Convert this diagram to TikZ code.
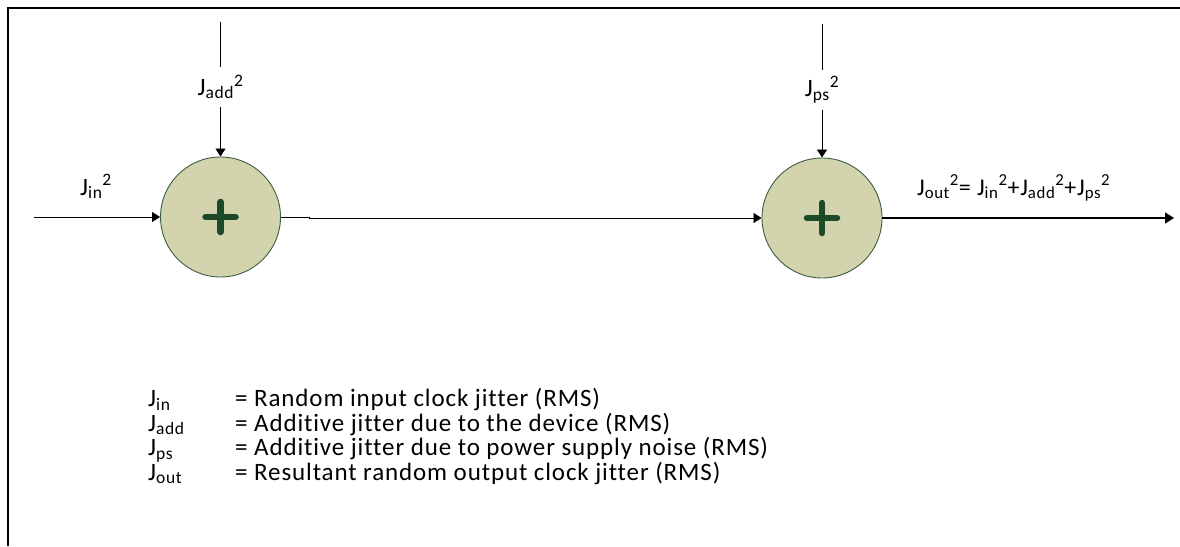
\documentclass[tikz,border=0pt]{standalone}
\usepackage{fontspec}
\setmainfont[Ligatures=CommonOff, LetterSpace=3.5]{Carlito}
\usetikzlibrary{arrows.meta}
\definecolor{sumfill}{HTML}{D3D3AD}
\definecolor{sumedge}{HTML}{3A5E42}
\definecolor{plusgreen}{HTML}{1C4A29}
\begin{document}
\begin{tikzpicture}[x=1pt,y=-1pt,
  every node/.style={font=\fontsize{25}{30}\selectfont, inner sep=0pt},
  sumnode/.style={circle, draw=sumedge, line width=0.9pt, fill=sumfill, minimum size=120pt,
    path picture={\draw[plusgreen, line width=6.5pt, line cap=round]
      ([xshift=-15pt]path picture bounding box.center) -- ([xshift=15pt]path picture bounding box.center)
      ([yshift=-15pt]path picture bounding box.center) -- ([yshift=15pt]path picture bounding box.center);}},
  wire/.style={line width=0.8pt},
  arr/.style={wire, -{Triangle[length=8pt,width=10pt]}},
  gaplabel/.style={minimum height=40pt, minimum width=50pt},
]
\useasboundingbox (0,0) rectangle (1180,546);
% frame
\draw[line width=2pt] (8,546) -- (8,8) -- (1180,8);

\node[sumnode] (s1) at (220.5,217) {};
\node[sumnode] (s2) at (822,218) {};

\coordinate (in) at (34,217);
\coordinate (t1) at (220.5,22);
\coordinate (t2) at (822,24);
\coordinate (out) at (1174,218);
\coordinate (kink) at (309,217);

\node[gaplabel] (la) at (220.5,87) {J\textsubscript{add}\textsuperscript{2}};
\node[gaplabel] (lp) at (822,90) {J\textsubscript{ps}\textsuperscript{2}};
\node[anchor=base west] (li) at (80,195) {J\textsubscript{in}\textsuperscript{2}};

\draw[wire] (t1) -- (la.north);
\draw[arr] (la.south) -- (s1.north);
\draw[wire] (t2) -- (lp.north);
\draw[arr] (lp.south) -- (s2.north);
\draw[arr] (in) -- (s1.west);
\draw[arr] (s1.east) -- (kink) |- (s2.west);
\draw[line width=1.6pt, -{Triangle[length=9pt,width=11pt]}] (s2.east) -- (out);

\node[anchor=base west, font=\fontsize{24}{29}\selectfont] (eq) at (917,195) {J\textsubscript{out}\textsuperscript{2}= J\textsubscript{in}\textsuperscript{2}+J\textsubscript{add}\textsuperscript{2}+J\textsubscript{ps}\textsuperscript{2}};

\node[anchor=base west] (k1) at (148,406.5) {J\textsubscript{in}};
\node[anchor=base west] (k2) at (148,431) {J\textsubscript{add}};
\node[anchor=base west] (k3) at (148,455.5) {J\textsubscript{ps}};
\node[anchor=base west] (k4) at (148,480) {J\textsubscript{out}};
\node[anchor=base west] (d1) at (235,406.5) {= Random input clock jitter (RMS)};
\node[anchor=base west] (d2) at (235,431) {= Additive jitter due to the device (RMS)};
\node[anchor=base west] (d3) at (235,455.5) {= Additive jitter due to power supply noise (RMS)};
\node[anchor=base west] (d4) at (235,480) {= Resultant random output clock jitter (RMS)};
\end{tikzpicture}
\end{document}
